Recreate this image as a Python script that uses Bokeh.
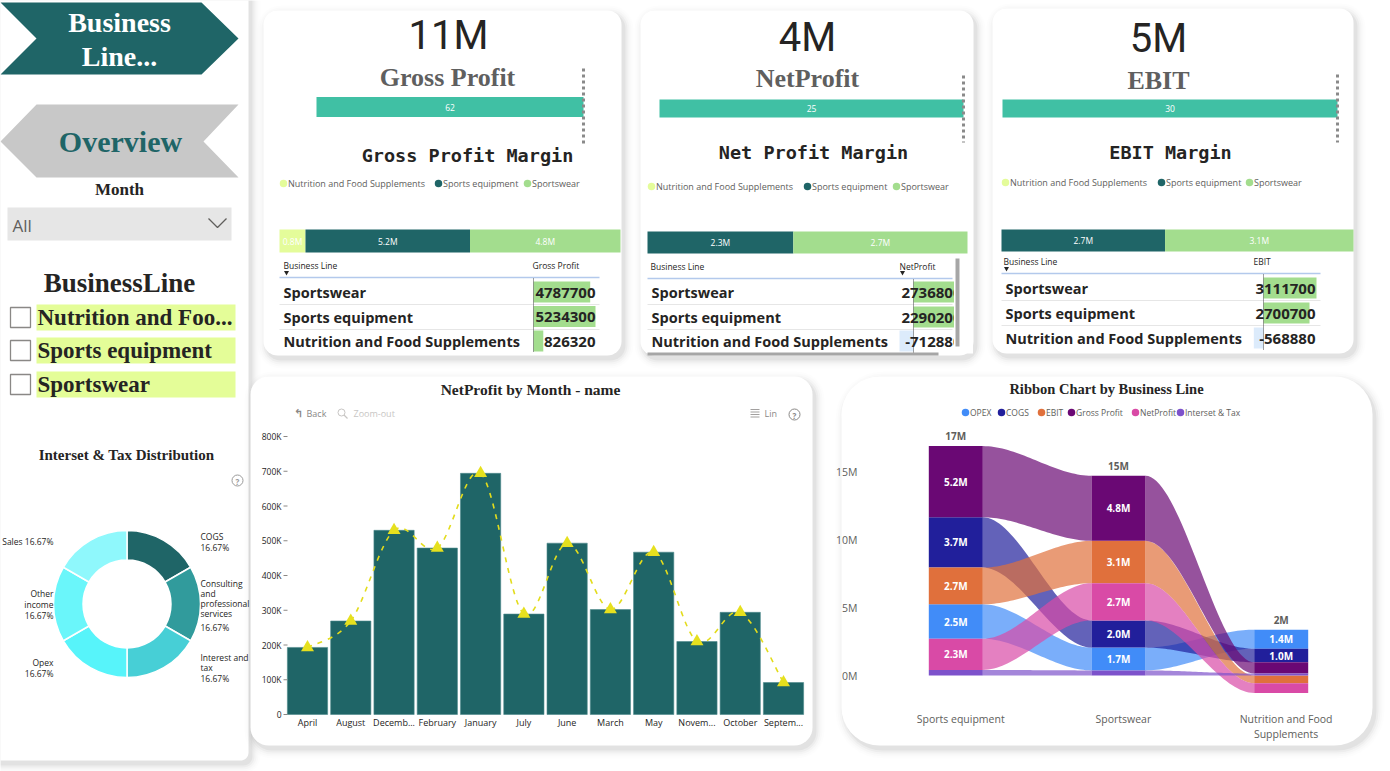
import numpy as np
from bokeh.plotting import figure
from bokeh.models import Range1d
from bokeh.core.properties import value
from bokeh.embed import file_html
from bokeh.resources import INLINE

W, H = 1390, 771

# ---------------- data ----------------
business_lines = ["Sportswear", "Sports equipment", "Nutrition and Food Supplements"]
gross_profit = [4787700, 5234300, 826320]
net_profit = [2736800, 2290200, -712880]
ebit = [3111700, 2700700, -568880]
cogs = [2000000, 3700000, 1000000]

kpi_titles = ["Gross Profit", "NetProfit", "EBIT"]
margin_titles = ["Gross Profit Margin", "Net Profit Margin", "EBIT Margin"]
margin_pct = [62, 25, 30]
table_headers = ["Gross Profit", "NetProfit", "EBIT"]

legend_lines = ["Nutrition and Food Supplements", "Sports equipment", "Sportswear"]
line_colors = ["#E4FC9A", "#1F6567", "#A3DD8E"]

slicer_items = ["Nutrition and Foo...", "Sports equipment", "Sportswear"]

months = ["April", "August", "Decemb...", "February", "January", "July",
          "June", "March", "May", "Novem...", "October", "Septem..."]
month_net_profit = [193000, 269000, 530000, 479000, 694000, 289000,
                    493000, 302000, 467000, 210000, 294000, 92000]
np_ticks = [0, 100000, 200000, 300000, 400000, 500000, 600000, 700000, 800000]
np_tick_labels = ["0", "100K", "200K", "300K", "400K", "500K", "600K", "700K", "800K"]

dist_labels = ["COGS", "Consulting and professional services", "Interest and tax",
               "Opex", "Other income", "Sales"]
dist_share = [1, 1, 1, 1, 1, 1]
dist_colors = ["#1F6567", "#319B9C", "#47CFD6", "#57F4FA", "#6AF6FA", "#8FF8FC"]

ribbon_series = ["OPEX", "COGS", "EBIT", "Gross Profit", "NetProfit", "Interset & Tax"]
ribbon_colors = ["#418CF8", "#211F9B", "#E0703C", "#6A0874", "#D94AA6", "#7D52CB"]
ribbon_lines = ["Sports equipment", "Sportswear", "Nutrition and Food Supplements"]
ribbon_ticks = [0, 5000000, 10000000, 15000000]
ribbon_tick_labels = ["0M", "5M", "10M", "15M"]

SERIF = "Liberation Serif"
SANS = "Open Sans"
MONO = "DejaVu Sans Mono"
TEAL = "#1F6567"

p = figure(width=W, height=H, x_range=Range1d(0, W), y_range=Range1d(H, 0),
           toolbar_location=None, output_backend="svg", min_border=0,
           x_axis_location=None, y_axis_location=None)
p.grid.visible = False
p.outline_line_color = None
p.background_fill_color = "white"
p.border_fill_color = "white"


def xmap(name, v0, p0, v1, p1):
    k = (p1 - p0) / (v1 - v0)
    p.extra_x_ranges[name] = Range1d(start=v0 - p0 / k, end=v0 + (W - p0) / k)


def ymap(name, v0, p0, v1, p1):
    k = (p0 - p1) / (v1 - v0)
    p.extra_y_ranges[name] = Range1d(start=v0 - (H - p0) / k, end=v0 + p0 / k)


def txt(x, y, s, size, color="#222222", font=SANS, style="normal",
        align="left", baseline="middle", **kw):
    if not isinstance(x, (list, np.ndarray)):
        x, y, s = [x], [y], [s]
    p.text(x=x, y=y, text=s, text_font=value(font), text_font_size=f"{size}px",
           text_font_style=style, text_color=color, text_align=align,
           text_baseline=baseline, **kw)


def rrect(x0, y0, x1, y1, r):
    t = np.linspace(0, np.pi / 2, 10)
    xs, ys = [], []
    for cx, cy, a0 in [(x1 - r, y0 + r, -np.pi / 2), (x1 - r, y1 - r, 0.0),
                       (x0 + r, y1 - r, np.pi / 2), (x0 + r, y0 + r, np.pi)]:
        a = a0 + t
        xs += list(cx + r * np.cos(a))
        ys += list(cy + r * np.sin(a))
    return xs, ys


def card(x0, y0, x1, y1, r, fill="white"):
    for i, a in enumerate([0.045, 0.03, 0.02, 0.012, 0.008]):
        e = i * 2 + 1
        xs, ys = rrect(x0 - e + 3, y0 - e + 4, x1 + e + 3, y1 + e + 4, r + e)
        p.patch(xs, ys, fill_color="black", fill_alpha=a, line_color=None)
    xs, ys = rrect(x0, y0, x1, y1, r)
    p.patch(xs, ys, fill_color=fill, line_color=None)


# ---------------- left panel ----------------
card(-20, -20, 248, 760, 8)

# navigation shapes
p.patch([0, 201, 238, 201, 0, 36], [2, 2, 38, 74, 74, 38], fill_color=TEAL, line_color=None)
txt(119, 22, "Business", 28, "white", SERIF, "bold", "center")
txt(119, 56, "Line...", 28, "white", SERIF, "bold", "center")
p.patch([36, 238, 203, 238, 36, 0], [104, 104, 141, 177, 177, 141], fill_color="#C8C8C8", line_color=None)
txt(120, 141, "Overview", 30, TEAL, SERIF, "bold", "center")

txt(119, 189, "Month", 17, "#252423", SERIF, "bold", "center")
p.quad(left=7, right=231, top=207, bottom=240, fill_color="#E6E6E6", line_color=None)
txt(12, 225, "All", 17, "#605E5C", SANS)
p.line([208, 217, 226], [218, 227, 218], line_color="#605E5C", line_width=1.3)

txt(119, 282, "BusinessLine", 27, "#252423", SERIF, "bold", "center")
for yc, item in zip([317, 350, 384], slicer_items):
    p.quad(left=36, right=235, top=yc - 13, bottom=yc + 13, fill_color="#E4FD98", line_color=None)
    p.quad(left=10, right=30, top=yc - 10, bottom=yc + 10, fill_color="white",
           line_color="#8A8886", line_width=1.3)
    txt(37, yc, item, 23, "#252423", SERIF, "bold")

# ---------------- donut ----------------
txt(126, 454, "Interset & Tax Distribution", 15, "#252423", SERIF, "bold", "center")
p.circle(x=[237], y=[480], radius=5.5, radius_units="screen", fill_color=None,
         line_color="#9A9A9A", line_width=1)
txt(237, 480.5, "?", 8, "#9A9A9A", SANS, "bold", "center")

share = np.array(dist_share, float)
cum = np.concatenate([[0], np.cumsum(share)]) / share.sum()
ang_start = np.pi / 2 - cum[1:] * 2 * np.pi
ang_end = np.pi / 2 - cum[:-1] * 2 * np.pi
p.annular_wedge(x=[126.5] * 6, y=[603.5] * 6, inner_radius=44, outer_radius=73.5,
                inner_radius_units="screen", outer_radius_units="screen",
                start_angle=list(ang_start), end_angle=list(ang_end),
                fill_color=dist_colors, line_color="white", line_width=1.5)
pct = [f"{s / share.sum() * 100:.2f}%" for s in share]
dist_lines = [
    (["COGS", pct[0]], 200, [536, 547], "left"),
    (["Consulting", "and", "professional", "services", pct[1]], 200, [583, 593, 603, 613, 627], "left"),
    (["Interest and", "tax", pct[2]], 200, [657, 667, 678], "left"),
    (["Opex", pct[3]], 53, [662, 673], "right"),
    (["Other", "income", pct[4]], 53, [593, 604, 615], "right"),
    ([f"Sales {pct[5]}"], 53, [541], "right"),
]
for lines, lx, lys, al in dist_lines:
    txt([lx] * len(lines), lys, lines, 8.5, "#252423", SANS, align=al)

# ---------------- KPI cards ----------------
metrics = [gross_profit, net_profit, ebit]
cards = [
    dict(box=(263, 10, 621, 355), kpi=(448, 35), title=(447, 77), bullet=(316, 583, 106.5, 20),
         target=(583, 68, 143), mtitle=(467, 155), legend_y=183, legend_x=[283, 438, 527],
         stack=(279, 620, 240.5, 23), hdr_y=265, hdr_x=(283, 532), tri=(286, 272),
         line_y=277, tbl=(279, 599), rows=[292, 316.5, 341], seps=[304, 329],
         num_x=595, axis_x=533, ref=(5234300, 595), clip=None),
    dict(box=(640, 10, 973, 355), kpi=(807, 37), title=(807, 78), bullet=(659, 963, 108, 18),
         target=(963, 75, 142), mtitle=(813, 152), legend_y=186, legend_x=[651, 807, 896],
         stack=(647, 967, 242, 22), hdr_y=266, hdr_x=(650, 899), tri=(902, 272),
         line_y=278, tbl=(647, 952), rows=[292, 317, 341], seps=[304, 329],
         num_x=961, axis_x=913, ref=(-712880, 899), clip=953.5),
    dict(box=(992, 8, 1353, 353), kpi=(1158, 38), title=(1158, 80), bullet=(1002, 1337, 108, 18),
         target=(1337, 74, 142), mtitle=(1170, 152), legend_y=182, legend_x=[1005, 1161, 1249],
         stack=(1001, 1353, 240, 22), hdr_y=261, hdr_x=(1003, 1253), tri=(1006, 268),
         line_y=273, tbl=(1001, 1320), rows=[288, 313, 338], seps=[300, 325],
         num_x=1315, axis_x=1263, ref=(3111700, 1316), clip=None),
]

for i, c in enumerate(cards):
    vals = metrics[i]
    x0, y0, x1, y1 = c["box"]
    card(x0, y0, x1, y1, 14)

    total = sum(vals)
    txt(c["kpi"][0], c["kpi"][1], f"{total / 1e6:.0f}M", 40, "#252423", "Roboto", align="center")
    txt(c["title"][0], c["title"][1], kpi_titles[i], 26, "#5F5F5F", SERIF, "bold", "center")

    # margin bullet bar
    bl, br, bc, bh = c["bullet"]
    xmap(f"g{i}", 0, bl, margin_pct[i], br)
    p.hbar(y=[bc], height=bh, left=[0], right=[margin_pct[i]], fill_color="#40C0A4",
           line_color=None, x_range_name=f"g{i}")
    txt([margin_pct[i] / 2], [bc], [str(margin_pct[i])], 8.5, "white", SANS,
        align="center", x_range_name=f"g{i}")
    tx, ty0, ty1 = c["target"]
    p.line([tx, tx], [ty0, ty1], line_color="#8A8A8A", line_width=3, line_dash="3 3")

    txt(c["mtitle"][0], c["mtitle"][1], margin_titles[i], 18.5, "#252423", MONO, "bold", "center")

    # legend
    for lx, name, col in zip(c["legend_x"], legend_lines, line_colors):
        p.scatter(x=[lx], y=[c["legend_y"]], size=7.5, marker="circle", fill_color=col, line_color=None)
        txt(lx + 4.5, c["legend_y"], name, 9, "#605E5C", SANS)

    # stacked bar of positive contributions, legend order
    sl, sr, sc, sh = c["stack"]
    seg_vals = [vals[business_lines.index(n)] for n in legend_lines]
    pos_total = sum(v for v in seg_vals if v > 0)
    xmap(f"s{i}", 0, sl, pos_total, sr)
    left = 0
    for v, col in zip(seg_vals, line_colors):
        if v <= 0:
            continue
        p.hbar(y=[sc], height=sh, left=[left], right=[left + v], fill_color=col,
               line_color=None, x_range_name=f"s{i}")
        txt([left + v / 2], [sc], [f"{v / 1e6:.1f}M"], 8.5, "white", SANS,
            align="center", x_range_name=f"s{i}")
        left += v

    # table
    tl, tr = c["tbl"]
    txt(c["hdr_x"][0], c["hdr_y"], "Business Line", 8.5, "#252423", SANS)
    txt(c["hdr_x"][1], c["hdr_y"], table_headers[i], 8.5, "#252423", SANS)
    p.scatter(x=[c["tri"][0]], y=[c["tri"][1]], marker="inverted_triangle", size=5,
              fill_color="#252423", line_color=None)
    p.line([tl, tr], [c["line_y"], c["line_y"]], line_color="#B3C9EC", line_width=1.5)
    for sy in c["seps"]:
        p.line([tl, tr], [sy, sy], line_color="#E6E6E6", line_width=1)

    rv, rp = c["ref"]
    xmap(f"d{i}", 0, c["axis_x"], rv, rp)
    for ry, v in zip(c["rows"], vals):
        p.hbar(y=[ry - 0.5], height=21, left=[0], right=[v],
               fill_color="#A3DD8E" if v > 0 else "#DCEBFB", line_color=None,
               x_range_name=f"d{i}")
    p.line([c["axis_x"], c["axis_x"]], [c["line_y"] + 1, c["rows"][-1] + 11],
           line_color="#444444", line_width=1, line_dash="1 1")
    for ry, name, v in zip(c["rows"], business_lines, vals):
        txt(tl + 4, ry, name, 14.5, "#252423", SANS, "bold")
        txt(c["num_x"], ry, str(v), 15, "#252423", SANS, "bold", "right")

    if c["clip"] is not None:
        p.quad(left=c["clip"], right=x1 - 0.5, top=c["line_y"] + 1, bottom=c["rows"][-1] + 12,
               fill_color="white", line_color=None)
        p.quad(left=955, right=959, top=258, bottom=346, fill_color="#A6A6A6", line_color=None)
        p.quad(left=647, right=938, top=352, bottom=355, fill_color="#A6A6A6", line_color=None)

# ---------------- NetProfit by Month ----------------
card(250, 376, 812, 745, 18)
txt(530, 389, "NetProfit by Month - name", 15.5, "#252423", SERIF, "bold", "center")

# header buttons
txt(298, 413, "\u21b0", 11, "#8A8886", "DejaVu Sans", "bold", "center")
txt(306, 413, "Back", 9, "#8A8886", SANS)
p.circle(x=[341], y=[412], radius=3.5, radius_units="screen", fill_color=None, line_color="#C8C6C4")
p.line([343.5, 347], [414.5, 418], line_color="#C8C6C4", line_width=1.2)
txt(353, 413, "Zoom-out", 9, "#C8C6C4", SANS)
for ly in [409, 411.5, 414, 416.5]:
    p.line([750, 759], [ly, ly], line_color="#8A8886", line_width=0.8)
txt(764, 413, "Lin", 9, "#8A8886", SANS)
p.circle(x=[794], y=[414], radius=5.5, radius_units="screen", fill_color=None, line_color="#8A8886")
txt(794, 414.5, "?", 8, "#8A8886", SANS, "bold", "center")

n = len(months)
xmap("bx", 0, 307, n - 1, 783)
ymap("by", 0, 714, 800000, 436)
idx = list(range(n))
p.vbar(x=idx, top=month_net_profit, bottom=0, width=0.93, fill_color=TEAL,
       line_color="#4E8A8B", line_width=0.6, x_range_name="bx", y_range_name="by")

# smooth dashed trend through monthly values
P = np.column_stack([idx, month_net_profit]).astype(float)
Pe = np.vstack([P[0], P, P[-1]])
bx0, by0, bx1, by1, cx0, cy0, cx1, cy1 = ([] for _ in range(8))
for k in range(n - 1):
    a, b, c2, d = Pe[k], Pe[k + 1], Pe[k + 2], Pe[k + 3]
    q1 = b + (c2 - a) / 6
    q2 = c2 - (d - b) / 6
    bx0.append(b[0]); by0.append(b[1]); bx1.append(c2[0]); by1.append(c2[1])
    cx0.append(q1[0]); cy0.append(q1[1]); cx1.append(q2[0]); cy1.append(q2[1])
p.bezier(x0=bx0, y0=by0, x1=bx1, y1=by1, cx0=cx0, cy0=cy0, cx1=cx1, cy1=cy1,
         line_color="#E3DC1C", line_width=1.6, line_dash="5 6",
         x_range_name="bx", y_range_name="by")
p.scatter(x=idx, y=month_net_profit, marker="triangle", size=13, fill_color="#E6E01E",
          line_color=None, x_range_name="bx", y_range_name="by")

p.segment(x0=[283] * len(np_ticks), x1=[287] * len(np_ticks), y0=np_ticks, y1=np_ticks,
          line_color="#8A8886", line_width=1, y_range_name="by")
txt([281] * len(np_ticks), np_ticks, np_tick_labels, 8.5, "#252423", SANS, "normal", "right",
    y_range_name="by")
txt(idx, [722] * n, months, 9, "#252423", SANS, align="center", x_range_name="bx")

# ---------------- Ribbon chart ----------------
card(841, 376, 1372, 745, 38)
txt(1106, 388, "Ribbon Chart by Business Line", 14.5, "#252423", SERIF, "bold", "center")
leg_x = [965, 1001, 1041, 1071, 1135, 1180]
for lx, name, col in zip(leg_x, ribbon_series, ribbon_colors):
    p.scatter(x=[lx], y=[412], size=7.5, marker="circle", fill_color=col, line_color=None)
    txt(lx + 4.5, 412, name, 8.5, "#605E5C", SANS)

xmap("rx", 0, 955.3, 1, 1118)
ymap("ry", 0, 675, 15000000, 471)
hw = 27 / 162.7

series_vals = {}
for j, bl in enumerate(ribbon_lines):
    b = business_lines.index(bl)
    series_vals.setdefault("OPEX", []).append(gross_profit[b] - ebit[b])
    series_vals.setdefault("COGS", []).append(cogs[b])
    series_vals.setdefault("EBIT", []).append(ebit[b])
    series_vals.setdefault("Gross Profit", []).append(gross_profit[b])
    series_vals.setdefault("NetProfit", []).append(net_profit[b])
    series_vals.setdefault("Interset & Tax", []).append(ebit[b] - net_profit[b])

# stack each column: positives ascending upward, negatives descending downward
seg = {}
col_tot = []
col_top = []
for j in range(len(ribbon_lines)):
    vals_j = [(series_vals[s][j], s) for s in ribbon_series]
    pos = sorted([t for t in vals_j if t[0] >= 0], key=lambda t: t[0])
    neg = sorted([t for t in vals_j if t[0] < 0], key=lambda t: -t[0])
    base = 0.0
    for v, s in pos:
        seg[(s, j)] = (base, base + v)
        base += v
    col_top.append(base)
    nb = 0.0
    for v, s in neg:
        seg[(s, j)] = (nb + v, nb)
        nb += v
    col_tot.append(sum(t[0] for t in vals_j))

t = np.linspace(0, 1, 40)
sm = t * t * (3 - 2 * t)
for s, col in zip(ribbon_series, ribbon_colors):
    for j in range(len(ribbon_lines) - 1):
        a0, a1 = seg[(s, j)]
        b0, b1 = seg[(s, j + 1)]
        xa, xb = j + hw, j + 1 - hw
        xs = xa + (xb - xa) * t
        top = a1 + (b1 - a1) * sm
        bot = a0 + (b0 - a0) * sm
        p.patch(x=list(xs) + list(xs[::-1]), y=list(top) + list(bot[::-1]),
                fill_color=col, fill_alpha=0.7, line_color=None,
                x_range_name="rx", y_range_name="ry")

for s, col in zip(ribbon_series, ribbon_colors):
    for j in range(len(ribbon_lines)):
        y0, y1 = seg[(s, j)]
        p.quad(left=[j - hw], right=[j + hw], bottom=[y0], top=[y1], fill_color=col,
               line_color=None, x_range_name="rx", y_range_name="ry")
        v = series_vals[s][j]
        if abs(v) >= 950000:
            txt([j], [(y0 + y1) / 2], [f"{v / 1e6:.1f}M"], 10, "white", SANS, "bold", "center",
                x_range_name="rx", y_range_name="ry")

for j in range(len(ribbon_lines)):
    txt([j], [col_top[j]], [f"{col_tot[j] / 1e6:.0f}M"], 10, "#605E5C", SANS, "bold",
        "center", "bottom", y_offset=-3, x_range_name="rx", y_range_name="ry")

txt([857] * len(ribbon_ticks), ribbon_ticks, ribbon_tick_labels, 10.5, "#605E5C", SANS,
    "normal", "right", y_range_name="ry")

cat_lines = [["Sports equipment"], ["Sportswear"], ["Nutrition and Food", "Supplements"]]
for j, lines in enumerate(cat_lines):
    for k, ln in enumerate(lines):
        txt([j + 0.03], [718 + 15 * k], [ln], 10.5, "#605E5C", SANS,
            "normal", "center", x_range_name="rx")

open("out.html", "w").write(file_html(p, INLINE))
